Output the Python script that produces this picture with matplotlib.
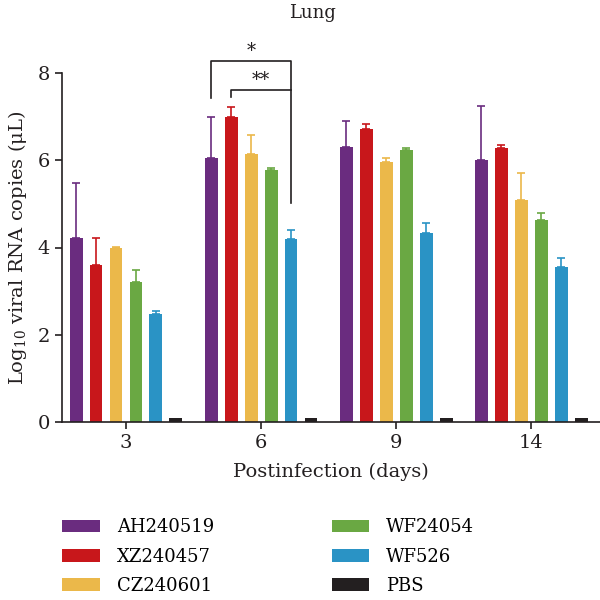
import matplotlib
matplotlib.use("Agg")
import matplotlib.pyplot as plt
from matplotlib.patches import Patch
import numpy as np

plt.rcParams['font.family'] = ['DejaVu Serif']
plt.rcParams['mathtext.fontset'] = 'dejavuserif'

days = ["3", "6", "9", "14"]
groups = ["AH240519", "XZ240457", "CZ240601", "WF24054", "WF526", "PBS"]
colors = ["#6a2c7f", "#c8171b", "#ebb84a", "#6aa843", "#2a93c5", "#231f20"]

# mean values per group, one entry per day
ah240519 = [4.22, 6.05, 6.30, 6.01]
xz240457 = [3.60, 7.00, 6.72, 6.28]
cz240601 = [3.98, 6.14, 5.96, 5.08]
wf24054 = [3.20, 5.78, 6.24, 4.63]
wf526 = [2.47, 4.20, 4.33, 3.56]
pbs = [0.08, 0.08, 0.08, 0.08]

# upper error bars (SD)
ah240519_err = [1.25, 0.95, 0.59, 1.24]
xz240457_err = [0.62, 0.22, 0.12, 0.07]
cz240601_err = [0.04, 0.44, 0.10, 0.63]
wf24054_err = [0.29, 0.05, 0.03, 0.15]
wf526_err = [0.08, 0.20, 0.23, 0.21]
pbs_err = [0, 0, 0, 0]

means = [ah240519, xz240457, cz240601, wf24054, wf526, pbs]
errs = [ah240519_err, xz240457_err, cz240601_err, wf24054_err, wf526_err, pbs_err]

fig = plt.figure(figsize=(6, 6), dpi=100)
ax = fig.add_axes([0.1033, 0.2967, 0.8967, 0.5816])

x = np.arange(len(days))
step = 0.148
width = 0.096
for i, (m, e, c) in enumerate(zip(means, errs, colors)):
    pos = x + (i - 2.5) * step
    ax.bar(pos, m, width=width, color=c, zorder=2)
    if i < 5:
        ax.errorbar(pos, m, yerr=[np.zeros(len(e)), e], fmt='none',
                    ecolor=c, elinewidth=1.2, capsize=3, capthick=1.2, zorder=1)

ax.set_xlim(-0.474, 3.51)
ax.set_ylim(0, 8)
ax.set_yticks([0, 2, 4, 6, 8])
ax.set_xticks(x)
ax.set_xticklabels(days)
ax.tick_params(labelsize=14, width=1.2, length=5, color='#231f20', labelcolor='#231f20')
for s in ['top', 'right']:
    ax.spines[s].set_visible(False)
for s in ['left', 'bottom']:
    ax.spines[s].set_linewidth(1.2)
    ax.spines[s].set_color('#231f20')

ax.set_ylabel("Log$_{10}$ viral RNA copies (\u03bcL)", fontsize=14, color='#231f20', labelpad=6)
ax.set_xlabel("Postinfection (days)", fontsize=14, color='#231f20', labelpad=8)
fig.text(0.52, 0.978, "Lung", ha='center', va='center', fontsize=13, color='#231f20')

# significance brackets at day 6
p_ah = 1 + (0 - 2.5) * step
p_xz = 1 + (1 - 2.5) * step
p_wf = 1 + (4 - 2.5) * step
ax.plot([p_ah, p_ah, p_wf, p_wf], [7.43, 8.27, 8.27, 5.03], color='#231f20', lw=1.2, clip_on=False)
ax.plot([p_xz, p_xz, p_wf], [7.46, 7.6, 7.6], color='#231f20', lw=1.2, clip_on=False)
ax.text((p_ah + p_wf) / 2, 8.3, "*", ha='center', va='bottom', fontsize=13, color='#231f20')
ax.text((p_xz + p_wf) / 2, 7.64, "**", ha='center', va='bottom', fontsize=13, color='#231f20')

handles = [Patch(facecolor=c, edgecolor='none') for c in colors]
fig.legend(handles, groups, ncol=2, frameon=False,
           loc='upper left', bbox_to_anchor=(0.092, 0.148), fontsize=13,
           handlelength=2.1, handleheight=0.7, handletextpad=0.92,
           columnspacing=6.5, labelspacing=0.62, borderaxespad=0)

fig.savefig("out.png", dpi=100)
